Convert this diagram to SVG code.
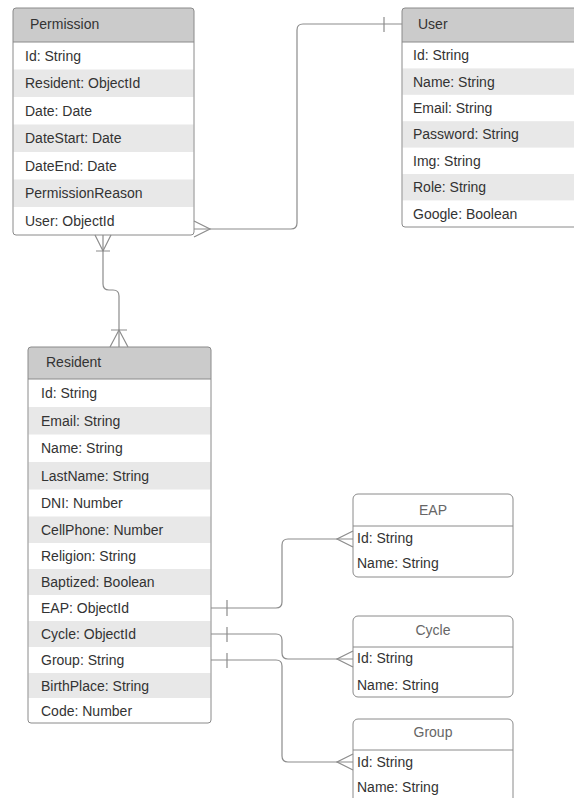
<svg xmlns="http://www.w3.org/2000/svg" width="574" height="798" viewBox="0 0 574 798">
<style>
text{font-family:"Liberation Sans",Arial,sans-serif;font-size:14px;fill:#333}
.box{fill:none;stroke:#8a8a8a;stroke-width:1}
.hdr{fill:#cbcbcb}
.alt{fill:#e8e8e8}
.sep{stroke:#8a8a8a;stroke-width:1}
.conn{fill:none;stroke:#8c8c8c;stroke-width:1.2}
.ttl{fill:#666;text-anchor:middle}
</style>
<rect width="574" height="798" fill="#fff"/>

<g id="permission">
<rect x="13" y="8" width="181" height="227" rx="3" fill="#fff"/>
<path class="hdr" d="M13,42 V11 Q13,8 16,8 H191 Q194,8 194,11 V42 Z"/>
<rect class="alt" x="13.5" y="69.5" width="180" height="27.5"/>
<rect class="alt" x="13.5" y="124.5" width="180" height="27.5"/>
<rect class="alt" x="13.5" y="179.5" width="180" height="27.5"/>
<line class="sep" x1="13" y1="42" x2="194" y2="42"/>
<rect class="box" x="13" y="8" width="181" height="227" rx="3"/>
<text x="30" y="28.5">Permission</text>
<text x="25" y="60.7">Id: String</text>
<text x="25" y="88">Resident: ObjectId</text>
<text x="25" y="115.7">Date: Date</text>
<text x="25" y="143">DateStart: Date</text>
<text x="25" y="170.7">DateEnd: Date</text>
<text x="25" y="198">PermissionReason</text>
<text x="25" y="225.7">User: ObjectId</text>
</g>

<g id="user">
<rect x="402" y="8" width="220" height="219" rx="3" fill="#fff"/>
<path class="hdr" d="M402,42 V11 Q402,8 405,8 H622 V42 Z"/>
<rect class="alt" x="402.5" y="68.4" width="220" height="26.4"/>
<rect class="alt" x="402.5" y="121.2" width="220" height="26.4"/>
<rect class="alt" x="402.5" y="174" width="220" height="26.4"/>
<line class="sep" x1="402" y1="42" x2="622" y2="42"/>
<rect class="box" x="402" y="8" width="220" height="219" rx="3"/>
<text x="418" y="28.5">User</text>
<text x="413" y="60.2">Id: String</text>
<text x="413" y="86.6">Name: String</text>
<text x="413" y="113">Email: String</text>
<text x="413" y="139.4">Password: String</text>
<text x="413" y="165.8">Img: String</text>
<text x="413" y="192.2">Role: String</text>
<text x="413" y="218.6">Google: Boolean</text>
</g>

<g id="resident">
<rect x="28" y="347" width="183" height="376" rx="3" fill="#fff"/>
<path class="hdr" d="M28,379 V350 Q28,347 31,347 H208 Q211,347 211,350 V379 Z"/>
<rect class="alt" x="28.5" y="407" width="182" height="27.5"/>
<rect class="alt" x="28.5" y="462" width="182" height="27.5"/>
<rect class="alt" x="28.5" y="516.5" width="182" height="26.5"/>
<rect class="alt" x="28.5" y="569" width="182" height="26"/>
<rect class="alt" x="28.5" y="621" width="182" height="26"/>
<rect class="alt" x="28.5" y="673" width="182" height="25"/>
<line class="sep" x1="28" y1="379" x2="211" y2="379"/>
<rect class="box" x="28" y="347" width="183" height="376" rx="3"/>
<text x="46" y="367">Resident</text>
<text x="41" y="398">Id: String</text>
<text x="41" y="425.7">Email: String</text>
<text x="41" y="453.2">Name: String</text>
<text x="41" y="480.7">LastName: String</text>
<text x="41" y="508">DNI: Number</text>
<text x="41" y="534.7">CellPhone: Number</text>
<text x="41" y="561">Religion: String</text>
<text x="41" y="587">Baptized: Boolean</text>
<text x="41" y="613">EAP: ObjectId</text>
<text x="41" y="639">Cycle: ObjectId</text>
<text x="41" y="665">Group: String</text>
<text x="41" y="690.5">BirthPlace: String</text>
<text x="41" y="715.5">Code: Number</text>
</g>

<g id="eap">
<rect class="box" x="353" y="494" width="160" height="83" rx="5" fill="#fff"/>
<line class="sep" x1="353" y1="526" x2="513" y2="526"/>
<text class="ttl" x="433" y="515">EAP</text>
<text x="357" y="543">Id: String</text>
<text x="357" y="568">Name: String</text>
</g>

<g id="cycle">
<rect class="box" x="353" y="616" width="160" height="81" rx="5" fill="#fff"/>
<line class="sep" x1="353" y1="647" x2="513" y2="647"/>
<text class="ttl" x="433" y="635">Cycle</text>
<text x="357" y="663">Id: String</text>
<text x="357" y="690">Name: String</text>
</g>

<g id="group">
<rect class="box" x="353" y="719" width="160" height="84" rx="5" fill="#fff"/>
<line class="sep" x1="353" y1="750" x2="513" y2="750"/>
<text class="ttl" x="433" y="737">Group</text>
<text x="357" y="767">Id: String</text>
<text x="357" y="792">Name: String</text>
</g>

<g id="connectors">
<path class="conn" d="M194,229 H291 Q297,229 297,223 V30 Q297,24 303,24 H402"/>
<path class="conn" d="M194,221 L210,229 L194,237"/>
<path class="conn" d="M384,17 V32"/>

<path class="conn" d="M103,235 V284 Q103,290 109,290 H113 Q119,290 119,296 V347"/>
<path class="conn" d="M95,235 L103,251 L111,235 M96,251 H110"/>
<path class="conn" d="M110,347 L119,330 L128,347 M111,330 H127"/>

<path class="conn" d="M211,608 H276 Q282,608 282,602 V545 Q282,539 288,539 H353"/>
<path class="conn" d="M353,531 L337,539 L353,547 M227,600 V616"/>
<path class="conn" d="M211,634 H276 Q282,634 282,640 V653 Q282,659 288,659 H353"/>
<path class="conn" d="M353,651 L337,659 L353,667 M227,627 V642"/>
<path class="conn" d="M211,660 H276 Q282,660 282,666 V756 Q282,762 288,762 H353"/>
<path class="conn" d="M353,754 L337,762 L353,770 M227,653 V668"/>
</g>
</svg>
